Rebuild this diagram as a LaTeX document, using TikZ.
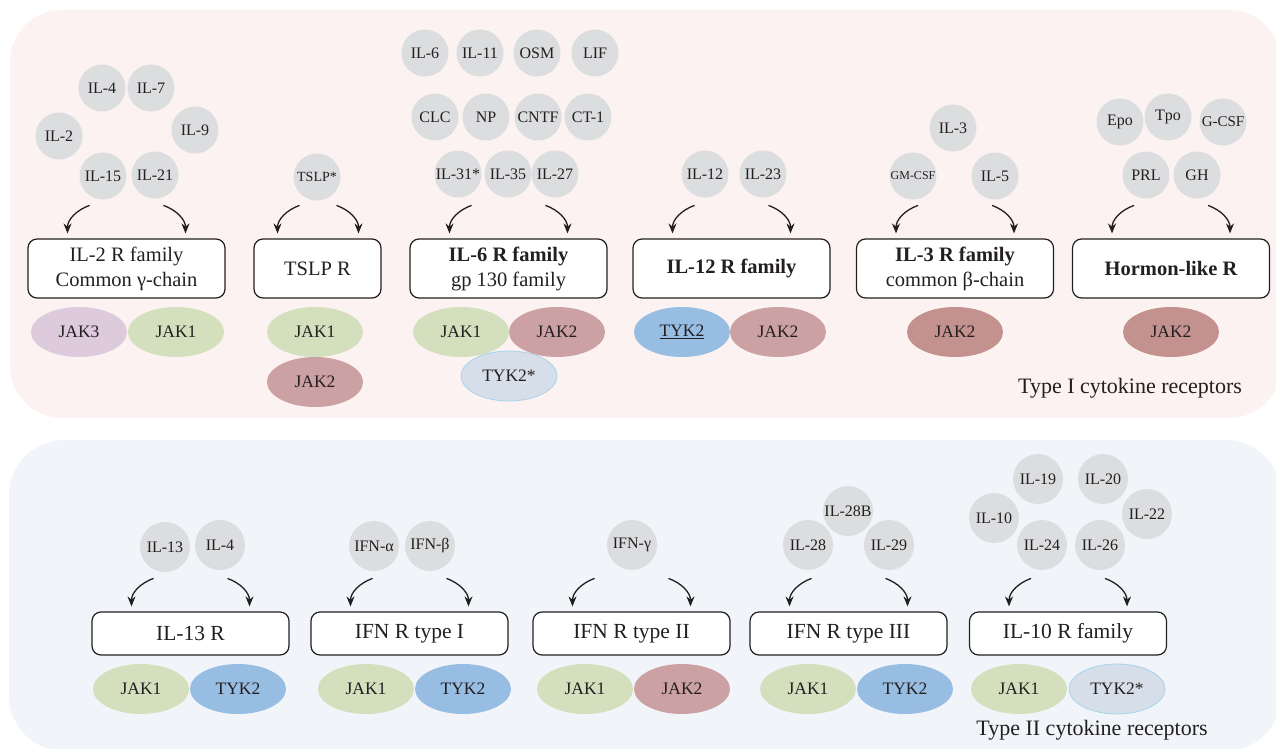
\documentclass[tikz,border=0pt]{standalone}
\usepackage{fontspec}
\setmainfont{Liberation Serif}
\usetikzlibrary{shapes.geometric,arrows.meta}
\definecolor{ink}{HTML}{231F20}
\definecolor{typeone}{HTML}{FCF2F1}
\definecolor{typetwo}{HTML}{F1F5FA}
\definecolor{ligandgrey}{HTML}{DCDDDF}
\definecolor{jakone}{HTML}{D4DFBE}
\definecolor{jaktwo}{HTML}{CBA1A3}
\definecolor{jaktwodark}{HTML}{C3928F}
\definecolor{jakthree}{HTML}{DDCADD}
\definecolor{tyktwo}{HTML}{97BDE3}
\definecolor{tykstar}{HTML}{D6DEE9}
\definecolor{tykline}{HTML}{A8D3EA}

\begin{document}
\begin{tikzpicture}[x=1pt, y=1pt, text=ink]
  \tikzstyle{ligand}=[circle, fill=ligandgrey, minimum size=47pt, inner sep=0pt,
    font=\fontsize{16}{16}\selectfont]
  \tikzstyle{lowligand}=[ligand, minimum size=50pt]
  \tikzstyle{receptor}=[draw=ink, line width=1.2pt, fill=white, rounded corners=9pt,
    minimum width=197pt, minimum height=59pt, align=center,
    font=\fontsize{20.5}{25}\selectfont]
  \tikzstyle{lowreceptor}=[receptor, minimum height=43pt, font=\fontsize{21.5}{25}\selectfont]
  \tikzstyle{kinase}=[ellipse, minimum width=96pt, minimum height=50pt, inner sep=0pt,
    font=\fontsize{17.5}{17.5}\selectfont]
  \tikzstyle{bind}=[-{Stealth[length=10pt,width=8pt]}, line width=1.3pt, draw=ink]
  \useasboundingbox (0,0) rectangle (1276,-749);

  % panels
  \fill[typeone, rounded corners=52pt] (10,-10) rectangle (1281,-418);
  \fill[typetwo, rounded corners=55pt] (9,-440) rectangle (1281,-751);

  % IL-2 family ligands
  \node[ligand] (il4) at (102,-88) {IL-4};
  \node[ligand] (il7) at (151,-88) {IL-7};
  \node[ligand] (il2) at (59,-136) {IL-2};
  \node[ligand] (il9) at (195,-130) {IL-9};
  \node[ligand] (il15) at (103,-176) {IL-15};
  \node[ligand] (il21) at (155,-175) {IL-21};
  \node[ligand, font=\fontsize{14}{14}\selectfont] (tslp) at (317,-177) {TSLP*};

  % gp 130 ligands
  \node[ligand] (il6) at (425,-53) {IL-6};
  \node[ligand] (il11) at (480,-53) {IL-11};
  \node[ligand] (osm) at (537,-53) {OSM};
  \node[ligand] (lif) at (595,-53) {LIF};
  \node[ligand] (clc) at (435,-117) {CLC};
  \node[ligand] (np) at (486,-117) {NP};
  \node[ligand] (cntf) at (538,-117) {CNTF};
  \node[ligand] (ct1) at (588,-117) {CT-1};
  \node[ligand] (il31) at (458,-174) {IL-31*};
  \node[ligand] (il35) at (508,-174) {IL-35};
  \node[ligand] (il27) at (555,-174) {IL-27};
  \node[ligand] (il12) at (705,-174) {IL-12};
  \node[ligand] (il23) at (763,-174) {IL-23};

  % IL-3 and hormone ligands
  \node[ligand] (il3) at (953,-128) {IL-3};
  \node[ligand, font=\fontsize{12}{12}\selectfont] (gmcsf) at (913,-176) {GM-CSF};
  \node[ligand] (il5) at (995,-176) {IL-5};
  \node[ligand] (epo) at (1120,-122) {Epo};
  \node[ligand] (tpo) at (1168,-117) {Tpo};
  \node[ligand, font=\fontsize{15}{15}\selectfont] (gcsf) at (1223,-122) {G-CSF};
  \node[ligand] (prl) at (1146,-175) {PRL};
  \node[ligand] (gh) at (1197,-175) {GH};

  % type I receptors
  \node[receptor] (il2r) at (126.5,-268.5) {IL-2 R family\\Common γ-chain};
  \node[receptor, minimum width=127pt] (tslpr) at (317.5,-268.5) {TSLP R};
  \node[receptor] (il6r) at (508.5,-268.5) {\bfseries IL-6 R family\\gp 130 family};
  \node[receptor] (il12r) at (731.5,-268.5) {\bfseries IL-12 R family};
  \node[receptor] (il3r) at (955,-268.5) {\bfseries IL-3 R family\\common β-chain};
  \node[receptor] (hormr) at (1171,-268.5) {\bfseries Hormon-like R};

  % type I kinases
  \node[kinase, fill=jakthree] (il2jak3) at (79,-332) {JAK3};
  \node[kinase, fill=jakone] (il2jak1) at (176,-332) {JAK1};
  \node[kinase, fill=jakone] (tslpjak1) at (315,-332) {JAK1};
  \node[kinase, fill=jaktwo] (tslpjak2) at (315,-382) {JAK2};
  \node[kinase, fill=jakone] (il6jak1) at (461,-332) {JAK1};
  \node[kinase, fill=jaktwo] (il6jak2) at (557,-332) {JAK2};
  \node[kinase, fill=tykstar, draw=tykline, line width=0.8pt] (il6tyk2) at (509,-376) {TYK2*};
  \node[kinase, fill=tyktwo] (il12tyk2) at (682,-332) {\underline{TYK2}};
  \node[kinase, fill=jaktwo] (il12jak2) at (778,-332) {JAK2};
  \node[kinase, fill=jaktwodark] (il3jak2) at (955,-332) {JAK2};
  \node[kinase, fill=jaktwodark] (hormjak2) at (1171,-332) {JAK2};

  \node[anchor=base, font=\fontsize{22}{22}\selectfont] (typeonelabel) at (1130,-393)
    {Type I cytokine receptors};

  % type II ligands
  \node[lowligand] (il13) at (165,-547) {IL-13};
  \node[lowligand] (il4b) at (220,-545) {IL-4};
  \node[lowligand] (ifna) at (374,-546) {IFN-α};
  \node[lowligand] (ifnb) at (430,-546) {IFN-β};
  \node[lowligand] (ifng) at (632,-545) {IFN-γ};
  \node[lowligand] (il28b) at (848,-511) {IL-28B};
  \node[lowligand] (il28) at (808,-545) {IL-28};
  \node[lowligand] (il29) at (889,-545) {IL-29};
  \node[lowligand] (il10) at (994,-518) {IL-10};
  \node[lowligand] (il19) at (1038,-479) {IL-19};
  \node[lowligand] (il20) at (1103,-479) {IL-20};
  \node[lowligand] (il22) at (1147,-514) {IL-22};
  \node[lowligand] (il24) at (1042,-545) {IL-24};
  \node[lowligand] (il26) at (1100,-545) {IL-26};

  % type II receptors
  \node[lowreceptor] (il13r) at (190.5,-633.5) {IL-13 R};
  \node[lowreceptor] (ifn1r) at (409.5,-633.5) {IFN R type I};
  \node[lowreceptor] (ifn2r) at (631.5,-633.5) {IFN R type II};
  \node[lowreceptor] (ifn3r) at (848.5,-633.5) {IFN R type III};
  \node[lowreceptor] (il10r) at (1068,-633.5) {IL-10 R family};

  % type II kinases
  \node[kinase, fill=jakone] (il13jak1) at (141,-689) {JAK1};
  \node[kinase, fill=tyktwo] (il13tyk2) at (238,-689) {TYK2};
  \node[kinase, fill=jakone] (ifn1jak1) at (366,-689) {JAK1};
  \node[kinase, fill=tyktwo] (ifn1tyk2) at (463,-689) {TYK2};
  \node[kinase, fill=jakone] (ifn2jak1) at (585,-689) {JAK1};
  \node[kinase, fill=jaktwo] (ifn2jak2) at (682,-689) {JAK2};
  \node[kinase, fill=jakone] (ifn3jak1) at (808,-689) {JAK1};
  \node[kinase, fill=tyktwo] (ifn3tyk2) at (905,-689) {TYK2};
  \node[kinase, fill=jakone] (il10jak1) at (1019,-689) {JAK1};
  \node[kinase, fill=tykstar, draw=tykline, line width=0.8pt] (il10tyk2) at (1117,-689) {TYK2*};

  \node[anchor=base, font=\fontsize{22}{22}\selectfont] (typetwolabel) at (1092,-735)
    {Type II cytokine receptors};

  % binding arrows
  \foreach \r in {il2r,il6r,il12r,il3r,hormr,il13r,ifn1r,ifn2r,ifn3r,il10r}{
    \draw[bind] ([xshift=-37pt,yshift=33pt]\r.north) to[out=200,in=90]
      ([xshift=-59pt,yshift=5pt]\r.north);
    \draw[bind] ([xshift=37pt,yshift=33pt]\r.north) to[out=-20,in=90]
      ([xshift=59pt,yshift=5pt]\r.north);
  }
  \draw[bind] ([xshift=-18pt,yshift=33pt]tslpr.north) to[out=200,in=90]
    ([xshift=-40pt,yshift=5pt]tslpr.north);
  \draw[bind] ([xshift=19pt,yshift=33pt]tslpr.north) to[out=-20,in=90]
    ([xshift=41pt,yshift=5pt]tslpr.north);
\end{tikzpicture}
\end{document}
